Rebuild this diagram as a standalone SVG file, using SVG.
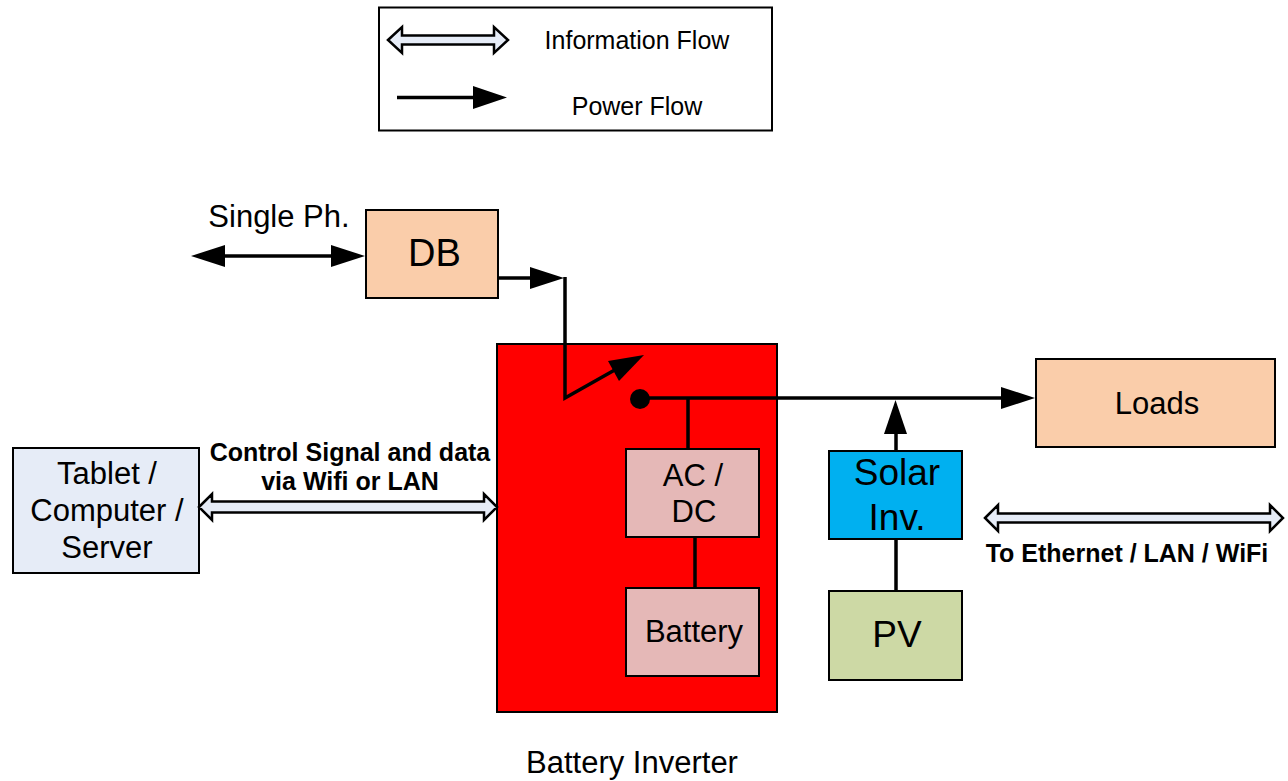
<svg xmlns="http://www.w3.org/2000/svg" width="1288" height="781" viewBox="0 0 1288 781">
<style>
text{font-family:"Liberation Sans",Arial,sans-serif;fill:#000;text-anchor:middle}
.box{stroke:#000;stroke-width:2}
.p{fill:none;stroke:#000;stroke-width:3.5}
.h{fill:#000;stroke:none}
.d{fill:#e6ecf7;stroke:#000;stroke-width:2.5;stroke-linejoin:miter}
.b{font-weight:bold;font-size:25px}
.m{font-size:31px}
.l{font-size:37px}
.s{font-size:25px}
</style>
<rect width="1288" height="781" fill="#fff"/>
<g id="legend">
<rect class="box" x="379" y="7.500" width="393" height="123" fill="#fff"/>
<path class="d" d="M388 40L402 27V35.500H494V27L508 40L494 53V44.500H402V53Z"/>
<text class="s" x="637" y="49">Information Flow</text>
<path class="p" d="M397 97.500H475"/>
<path class="h" d="M473 86L507 97.500L473 109Z"/>
<text class="s" x="637" y="115">Power Flow</text>
</g>
<g id="inverter"><rect class="box" x="497" y="344" width="280" height="368" fill="#ff0000"/></g>
<g id="db"><rect class="box" x="366" y="210" width="132" height="88" fill="#facdaa"/><text class="l" x="434.500" y="266" style="font-size:38px">DB</text></g>
<g id="loads"><rect class="box" x="1036" y="359" width="239" height="88" fill="#facdaa"/><text class="m" x="1157" y="414">Loads</text></g>
<g id="tablet"><rect class="box" x="13" y="448" width="186" height="125" fill="#e6ecf7"/>
<text class="m" x="107" y="484">Tablet /</text><text class="m" x="107" y="521">Computer /</text><text class="m" x="107" y="558">Server</text></g>
<g id="acdc"><rect class="box" x="626" y="449" width="133" height="88" fill="#e5b8b7"/><text class="m" x="693" y="486">AC /</text><text class="m" x="694" y="522">DC</text></g>
<g id="battery"><rect class="box" x="626" y="588" width="133" height="88" fill="#e5b8b7"/><text class="m" x="694" y="642">Battery</text></g>
<g id="solar"><rect class="box" x="829" y="451" width="133" height="88" fill="#00b0f0"/><text class="l" x="897" y="485">Solar</text><text class="l" x="897" y="530">Inv.</text></g>
<g id="pv"><rect class="box" x="829" y="591" width="133" height="89" fill="#cdd9a5"/><text class="l" x="897" y="647">PV</text></g>
<g id="connectors">
<path class="p" d="M222 256H338"/>
<path class="h" d="M191 256L225 245V267Z"/><path class="h" d="M365 256L331 245V267Z"/>
<path class="p" d="M498 278H534"/><path class="h" d="M530 267L564 278L530 289Z"/>
<path class="p" d="M565 277V398L620 367"/>
<path class="h" d="M644 355L619 381L608 361Z"/>
<circle cx="640" cy="399" r="10" fill="#000"/>
<path class="p" d="M640 398H1005"/><path class="h" d="M1001 387L1035 398L1001 409Z"/>
<path class="p" d="M688 398V449M695 537V588"/>
<path class="p" d="M896 451V428M896 539V591"/><path class="h" d="M895.500 400L907 434H884Z"/>
<path class="d" d="M199 507L212 494V501.500H484V494L497 507L484 520V512.500H212V520Z"/>
<path class="d" d="M985 518L998 505V513.500H1270V505L1283 518L1270 531V522.500H998V531Z"/>
</g>
<g id="labels">
<text class="m" x="279" y="227">Single Ph.</text>
<text class="b" x="350" y="461">Control Signal and data</text>
<text class="b" x="350" y="490">via Wifi or LAN</text>
<text class="b" x="1127" y="562">To Ethernet / LAN / WiFi</text>
<text class="m" x="632" y="773">Battery Inverter</text>
</g>
</svg>
